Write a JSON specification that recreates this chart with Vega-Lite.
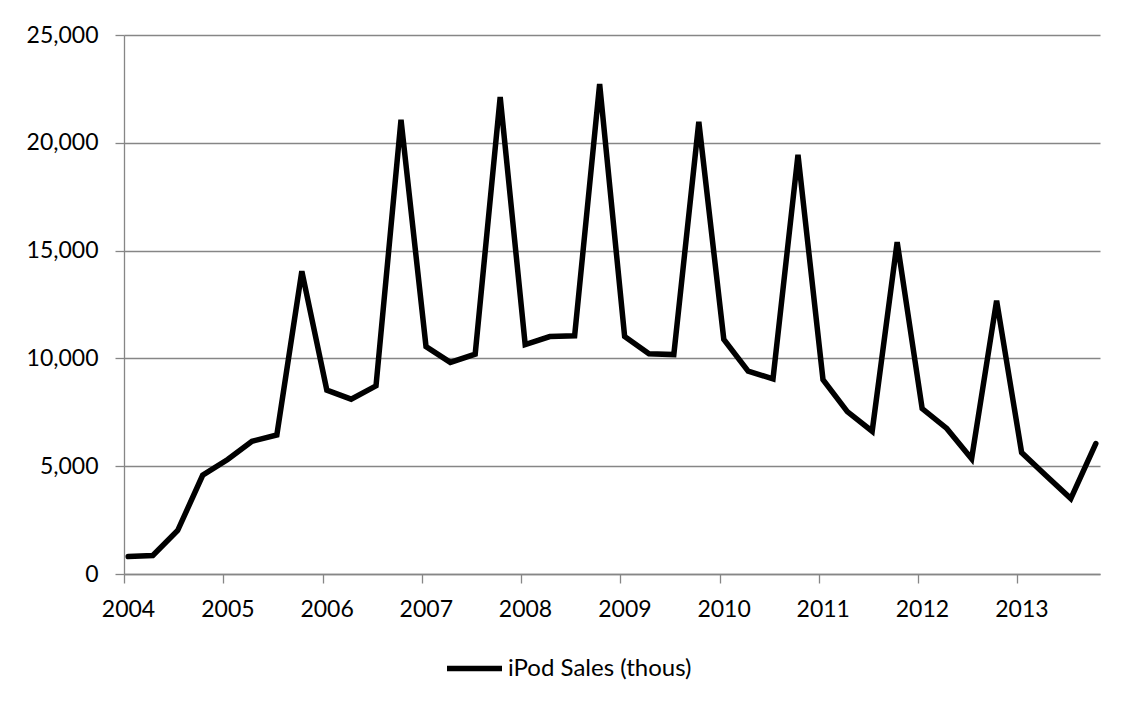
{
  "$schema": "https://vega.github.io/schema/vega-lite/v6.json",
  "autosize": "none",
  "width": 976,
  "height": 539,
  "padding": {"left": 124, "top": 35, "right": 25, "bottom": 128},
  "background": "white",
  "config": {
    "view": {"stroke": null},
    "font": "Lato",
    "axis": {
      "labelFont": "Lato",
      "labelFontSize": 23,
      "labelColor": "#000000",
      "domainColor": "#868686",
      "tickColor": "#868686",
      "gridColor": "#868686",
      "gridOpacity": 1,
      "domainWidth": 1.3,
      "tickWidth": 1.3,
      "gridWidth": 1.3,
      "tickSize": 9,
      "title": null
    }
  },
  "data": {
    "values": [
      {"date": "2004-01", "sales": 807},
      {"date": "2004-04", "sales": 860},
      {"date": "2004-07", "sales": 2016},
      {"date": "2004-10", "sales": 4580},
      {"date": "2005-01", "sales": 5311},
      {"date": "2005-04", "sales": 6155},
      {"date": "2005-07", "sales": 6451},
      {"date": "2005-10", "sales": 14043},
      {"date": "2006-01", "sales": 8526},
      {"date": "2006-04", "sales": 8111},
      {"date": "2006-07", "sales": 8729},
      {"date": "2006-10", "sales": 21066},
      {"date": "2007-01", "sales": 10549},
      {"date": "2007-04", "sales": 9815},
      {"date": "2007-07", "sales": 10200},
      {"date": "2007-10", "sales": 22121},
      {"date": "2008-01", "sales": 10644},
      {"date": "2008-04", "sales": 11011},
      {"date": "2008-07", "sales": 11052},
      {"date": "2008-10", "sales": 22727},
      {"date": "2009-01", "sales": 11013},
      {"date": "2009-04", "sales": 10215},
      {"date": "2009-07", "sales": 10177},
      {"date": "2009-10", "sales": 20970},
      {"date": "2010-01", "sales": 10885},
      {"date": "2010-04", "sales": 9406},
      {"date": "2010-07", "sales": 9051},
      {"date": "2010-10", "sales": 19446},
      {"date": "2011-01", "sales": 9017},
      {"date": "2011-04", "sales": 7535},
      {"date": "2011-07", "sales": 6622},
      {"date": "2011-10", "sales": 15397},
      {"date": "2012-01", "sales": 7673},
      {"date": "2012-04", "sales": 6751},
      {"date": "2012-07", "sales": 5344},
      {"date": "2012-10", "sales": 12679},
      {"date": "2013-01", "sales": 5633},
      {"date": "2013-04", "sales": 4569},
      {"date": "2013-07", "sales": 3498},
      {"date": "2013-10", "sales": 6049}
    ],
    "format": {"parse": {"date": "date:'%Y-%m'"}}
  },
  "mark": {"type": "line", "strokeWidth": 5.5, "strokeCap": "round", "strokeJoin": "miter"},
  "encoding": {
    "x": {
      "field": "date",
      "timeUnit": "yearmonth",
      "type": "temporal",
      "bandPosition": 0.5,
      "scale": {"domain": [{"year": 2004, "month": 1, "date": 1}, {"year": 2013, "month": 11, "date": 1}], "nice": false},
      "axis": {
        "grid": false,
        "tickCount": {"interval": "year", "step": 1},
        "format": "%Y",
        "labelPadding": 15,
        "labelOffset": 4,
        "labelFlush": false,
        "labelOverlap": false
      }
    },
    "y": {
      "field": "sales",
      "type": "quantitative",
      "scale": {"domain": [0, 25000], "nice": false},
      "axis": {
        "values": [0, 5000, 10000, 15000, 20000, 25000],
        "format": ",.0f",
        "grid": true,
        "labelPadding": 17
      }
    },
    "color": {
      "datum": "iPod Sales (thous)",
      "type": "nominal",
      "scale": {"range": ["#000000"]},
      "legend": {
        "title": null,
        "orient": "none",
        "legendX": 320,
        "legendY": 603,
        "symbolType": "stroke",
        "symbolSize": 3025,
        "symbolStrokeWidth": 5.5,
        "labelFont": "Lato",
        "labelFontSize": 24,
        "labelColor": "#000000",
        "labelOffset": 3,
        "labelLimit": 0
      }
    }
  }
}
